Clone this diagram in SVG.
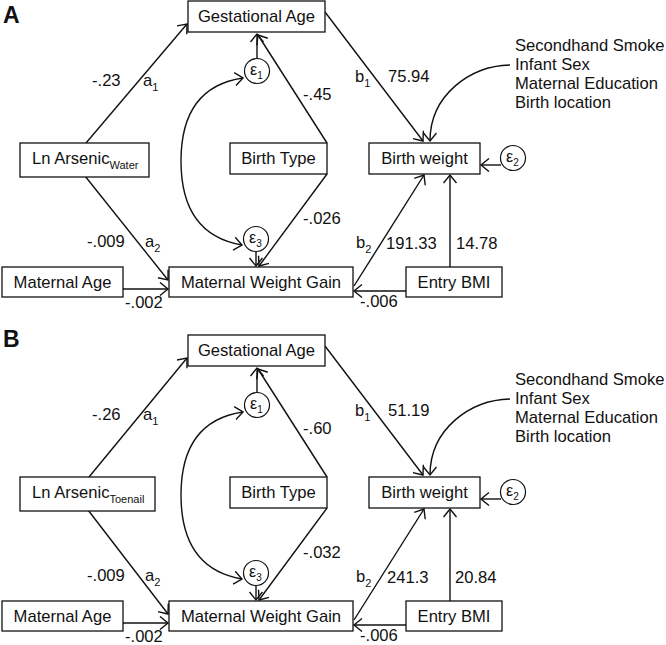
<svg xmlns="http://www.w3.org/2000/svg" width="666" height="645" viewBox="0 0 666 645">
<style>
text{font-family:"Liberation Sans",Arial,sans-serif;font-size:16.6px;fill:#111}
.box{fill:#fff;stroke:#111;stroke-width:1.3}
.err{fill:#fff;stroke:#111;stroke-width:1.2}
.ln{fill:none;stroke:#111;stroke-width:1.4}
.sub{font-size:11px}
.eps{font-size:16px}
.esub{font-size:10px}
.lbl{font-weight:bold;font-size:23px}
</style>
<defs>
<marker id="ah" markerUnits="userSpaceOnUse" markerWidth="12" markerHeight="16" refX="9" refY="7" orient="auto-start-reverse">
<path d="M1,0.5 L9,7 L1,13.5" fill="none" stroke="#111" stroke-width="1.4"/>
</marker>
</defs>
<rect width="666" height="645" fill="#fff"/>
<text class="lbl" x="3" y="23">A</text>
<text class="lbl" x="3" y="347">B</text>

<g id="panelA">
<g id="A-connectors">
<line class="ln" x1="86" y1="143" x2="187" y2="24" marker-end="url(#ah)"/>
<line class="ln" x1="327" y1="143" x2="258" y2="35" marker-end="url(#ah)"/>
<line class="ln" x1="257" y1="58" x2="257" y2="34" marker-end="url(#ah)"/>
<path class="ln" d="M243,78 C195,85 181,120 181,161 C181,202 195,237 242,245" marker-start="url(#ah)" marker-end="url(#ah)"/>
<line class="ln" x1="325" y1="12" x2="423" y2="141" marker-end="url(#ah)"/>
<path class="ln" d="M510,65 C470,66 430,95 430,141" marker-end="url(#ah)"/>
<line class="ln" x1="501" y1="165" x2="481" y2="165" marker-end="url(#ah)"/>
<line class="ln" x1="450" y1="267" x2="450" y2="175" marker-end="url(#ah)"/>
<line class="ln" x1="354" y1="286" x2="424" y2="175" marker-end="url(#ah)"/>
<line class="ln" x1="406" y1="291" x2="354" y2="291" marker-end="url(#ah)"/>
<line class="ln" x1="85" y1="176" x2="168" y2="280" marker-end="url(#ah)"/>
<line class="ln" x1="123" y1="289" x2="168" y2="289" marker-end="url(#ah)"/>
<line class="ln" x1="327" y1="174" x2="259" y2="266" marker-end="url(#ah)"/>
<line class="ln" x1="256" y1="251" x2="256" y2="266" marker-end="url(#ah)"/>
</g>
<g id="A-gest"><rect class="box" x="188" y="1" width="137" height="31"/><text x="256.5" y="22" text-anchor="middle">Gestational Age</text></g>
<g id="A-arsenic"><rect class="box" x="20" y="143" width="129" height="34"/><text x="32" y="164">Ln Arsenic<tspan class="sub" dy="5">Water</tspan></text></g>
<g id="A-birthtype"><rect class="box" x="230" y="143" width="97" height="31"/><text x="278.5" y="164" text-anchor="middle">Birth Type</text></g>
<g id="A-birthweight"><rect class="box" x="369" y="143" width="111" height="31"/><text x="424.5" y="164" text-anchor="middle">Birth weight</text></g>
<g id="A-matage"><rect class="box" x="2" y="267" width="121" height="30"/><text x="62.5" y="288" text-anchor="middle">Maternal Age</text></g>
<g id="A-mwg"><rect class="box" x="169" y="267" width="184" height="30"/><text x="261" y="288" text-anchor="middle">Maternal Weight Gain</text></g>
<g id="A-bmi"><rect class="box" x="406" y="267" width="96" height="30"/><text x="454" y="288" text-anchor="middle">Entry BMI</text></g>
<g id="A-e1"><circle class="err" cx="257" cy="71" r="12.5"/><text class="eps" x="250" y="75">ε<tspan class="esub" dy="4">1</tspan></text></g>
<g id="A-e2"><circle class="err" cx="513" cy="158" r="12.5"/><text class="eps" x="506" y="162">ε<tspan class="esub" dy="4">2</tspan></text></g>
<g id="A-e3"><circle class="err" cx="256" cy="239" r="12.5"/><text class="eps" x="249" y="243">ε<tspan class="esub" dy="4">3</tspan></text></g>
<g id="A-covariates"><text x="515" y="51">Secondhand Smoke</text><text x="515" y="70">Infant Sex</text><text x="515" y="89">Maternal Education</text><text x="515" y="108">Birth location</text></g>
<g id="A-labels">
<text x="92" y="86">-.23</text>
<text x="143" y="86">a<tspan class="sub" dy="5">1</tspan></text>
<text x="303" y="100">-.45</text>
<text x="355" y="82">b<tspan class="sub" dy="5">1</tspan></text>
<text x="388" y="82">75.94</text>
<text x="87" y="247">-.009</text>
<text x="145" y="247">a<tspan class="sub" dy="5">2</tspan></text>
<text x="303" y="224">-.026</text>
<text x="356" y="248">b<tspan class="sub" dy="5">2</tspan></text>
<text x="386" y="249">191.33</text>
<text x="456" y="249">14.78</text>
<text x="125" y="308">-.002</text>
<text x="360" y="307">-.006</text>
</g>
</g>

<g id="panelB" transform="translate(0,334)">
<g id="B-connectors">
<line class="ln" x1="89" y1="143" x2="187" y2="24" marker-end="url(#ah)"/>
<line class="ln" x1="327" y1="143" x2="258" y2="35" marker-end="url(#ah)"/>
<line class="ln" x1="257" y1="58" x2="257" y2="34" marker-end="url(#ah)"/>
<path class="ln" d="M243,78 C195,85 181,120 181,161 C181,202 195,237 242,245" marker-start="url(#ah)" marker-end="url(#ah)"/>
<line class="ln" x1="325" y1="12" x2="423" y2="141" marker-end="url(#ah)"/>
<path class="ln" d="M510,65 C470,66 430,95 430,141" marker-end="url(#ah)"/>
<line class="ln" x1="501" y1="165" x2="481" y2="165" marker-end="url(#ah)"/>
<line class="ln" x1="450" y1="267" x2="450" y2="175" marker-end="url(#ah)"/>
<line class="ln" x1="354" y1="286" x2="424" y2="175" marker-end="url(#ah)"/>
<line class="ln" x1="406" y1="291" x2="354" y2="291" marker-end="url(#ah)"/>
<line class="ln" x1="88" y1="176" x2="168" y2="280" marker-end="url(#ah)"/>
<line class="ln" x1="123" y1="289" x2="168" y2="289" marker-end="url(#ah)"/>
<line class="ln" x1="327" y1="174" x2="259" y2="266" marker-end="url(#ah)"/>
<line class="ln" x1="256" y1="251" x2="256" y2="266" marker-end="url(#ah)"/>
</g>
<g id="B-gest"><rect class="box" x="188" y="1" width="137" height="31"/><text x="256.5" y="22" text-anchor="middle">Gestational Age</text></g>
<g id="B-arsenic"><rect class="box" x="20" y="143" width="135" height="34"/><text x="32" y="164">Ln Arsenic<tspan class="sub" dy="5">Toenail</tspan></text></g>
<g id="B-birthtype"><rect class="box" x="230" y="143" width="97" height="31"/><text x="278.5" y="164" text-anchor="middle">Birth Type</text></g>
<g id="B-birthweight"><rect class="box" x="369" y="143" width="111" height="31"/><text x="424.5" y="164" text-anchor="middle">Birth weight</text></g>
<g id="B-matage"><rect class="box" x="2" y="267" width="121" height="30"/><text x="62.5" y="288" text-anchor="middle">Maternal Age</text></g>
<g id="B-mwg"><rect class="box" x="169" y="267" width="184" height="30"/><text x="261" y="288" text-anchor="middle">Maternal Weight Gain</text></g>
<g id="B-bmi"><rect class="box" x="406" y="267" width="96" height="30"/><text x="454" y="288" text-anchor="middle">Entry BMI</text></g>
<g id="B-e1"><circle class="err" cx="257" cy="71" r="12.5"/><text class="eps" x="250" y="75">ε<tspan class="esub" dy="4">1</tspan></text></g>
<g id="B-e2"><circle class="err" cx="513" cy="158" r="12.5"/><text class="eps" x="506" y="162">ε<tspan class="esub" dy="4">2</tspan></text></g>
<g id="B-e3"><circle class="err" cx="256" cy="239" r="12.5"/><text class="eps" x="249" y="243">ε<tspan class="esub" dy="4">3</tspan></text></g>
<g id="B-covariates"><text x="515" y="51">Secondhand Smoke</text><text x="515" y="70">Infant Sex</text><text x="515" y="89">Maternal Education</text><text x="515" y="108">Birth location</text></g>
<g id="B-labels">
<text x="92" y="86">-.26</text>
<text x="143" y="86">a<tspan class="sub" dy="5">1</tspan></text>
<text x="303" y="100">-.60</text>
<text x="355" y="82">b<tspan class="sub" dy="5">1</tspan></text>
<text x="388" y="82">51.19</text>
<text x="87" y="247">-.009</text>
<text x="145" y="247">a<tspan class="sub" dy="5">2</tspan></text>
<text x="303" y="224">-.032</text>
<text x="356" y="248">b<tspan class="sub" dy="5">2</tspan></text>
<text x="387" y="249">241.3</text>
<text x="455" y="249">20.84</text>
<text x="125" y="308">-.002</text>
<text x="360" y="307">-.006</text>
</g>
</g>
</svg>
